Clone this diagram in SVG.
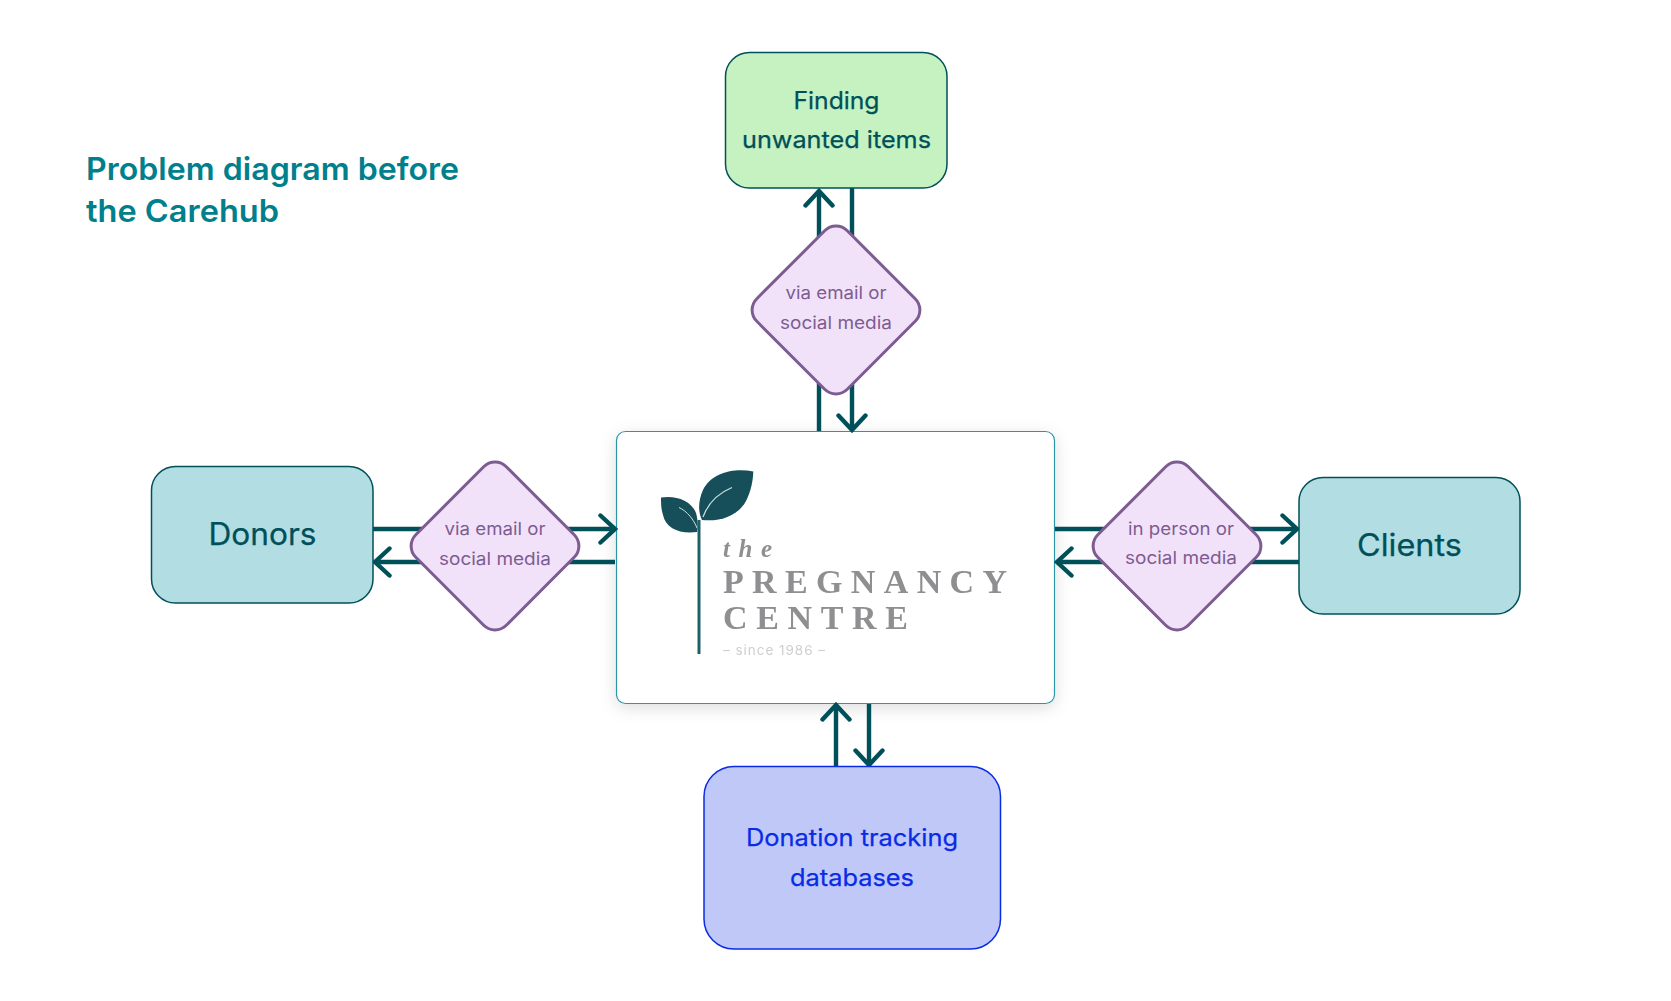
<svg xmlns="http://www.w3.org/2000/svg" width="1671" height="1001" viewBox="0 0 1671 1001">
<style>
text{font-family:"Inter","Liberation Sans",sans-serif;text-anchor:middle}
.box{stroke-width:1.5}
.teal{fill:#b2dde2;stroke:#00505a}
.dark{fill:#00505a}
.l{font-size:31px;font-weight:400}
.m{font-size:24px;font-weight:400}
.dia rect{fill:#f2e2f9;stroke:#7d5c92;stroke-width:3}
.dia text{fill:#7d5c92;font-size:17.5px}
.con line{stroke:#00505a;stroke-width:4.4}
.t{font-size:31.5px;font-weight:600;fill:#007f8c;text-anchor:start}
.serif{font-family:"Liberation Serif",serif;fill:#8f8f92;font-weight:700;text-anchor:start}
</style>
<defs>
<filter id="shadow" x="-15%" y="-15%" width="130%" height="135%"><feDropShadow dx="0" dy="4" stdDeviation="8" flood-color="#000" flood-opacity="0.13"/></filter>
<filter id="soft" x="-5%" y="-5%" width="110%" height="110%"><feGaussianBlur stdDeviation="0.55"/></filter>
<marker id="arrow" markerUnits="userSpaceOnUse" markerWidth="22" markerHeight="40" viewBox="-19 -20 22 40" refX="0" refY="0" orient="auto"><path d="M-14.5,-13.5L0,0L-14.5,13.5" fill="none" stroke="#00505a" stroke-width="4.4" stroke-linecap="round" stroke-linejoin="miter"/></marker>
</defs>
<rect width="1671" height="1001" fill="#fff"/>
<g id="title">
<text class="t" x="86" y="180" textLength="373" lengthAdjust="spacingAndGlyphs">Problem diagram before</text>
<text class="t" x="86" y="222" textLength="193" lengthAdjust="spacingAndGlyphs">the Carehub</text>
</g>
<g id="centre">
<rect x="616.5" y="431.5" width="438" height="272" rx="9" fill="#fff" stroke="#2a97a5" stroke-width="1.2" filter="url(#shadow)"/>
<g id="logo" filter="url(#soft)">
<path d="M753.3,471.5C735,468 712,472 703,490C698,501 698,512 702,520C720,522 738,516 746,501C751,491 753,481 753.3,471.5Z" fill="#15505a"/>
<path d="M661,497.5C675,495 691,500 696,513C698,520 698,527 697,532C680,534 666,529 663,515C661,509 661,503 661,497.5Z" fill="#15505a"/>
<path d="M732,487.5C716,494 707,506 703,517" fill="none" stroke="#cfe0e0" stroke-width="1.2"/>
<path d="M679,507.5C687,511 694,520 697,528" fill="none" stroke="#cfe0e0" stroke-width="1"/>
<path d="M699,520V654" fill="none" stroke="#1f6068" stroke-width="3"/>
<text class="serif" x="723" y="557" font-size="25" font-style="italic" textLength="49">the</text>
<text class="serif" x="723" y="593" font-size="34" textLength="284">PREGNANCY</text>
<text class="serif" x="723" y="629" font-size="34" textLength="185">CENTRE</text>
<text x="723" y="655" style="text-anchor:start;font-size:13.5px;fill:#cfcfcf" textLength="102">– since 1986 –</text>
</g>
</g>
<g id="connectors" class="con">
<line x1="819" y1="431" x2="819" y2="191" marker-end="url(#arrow)"/>
<line x1="852" y1="188" x2="852" y2="430" marker-end="url(#arrow)"/>
<line x1="373" y1="529" x2="615" y2="529" marker-end="url(#arrow)"/>
<line x1="615" y1="562" x2="375" y2="562" marker-end="url(#arrow)"/>
<line x1="1055" y1="529" x2="1297" y2="529" marker-end="url(#arrow)"/>
<line x1="1299" y1="562" x2="1057" y2="562" marker-end="url(#arrow)"/>
<line x1="836" y1="766" x2="836" y2="705" marker-end="url(#arrow)"/>
<line x1="869" y1="704" x2="869" y2="765" marker-end="url(#arrow)"/>
</g>
<g id="finding">
<rect class="box" x="725.5" y="52.5" width="221.5" height="135.5" rx="24" fill="#c6f1c0" stroke="#00505a"/>
<text class="m dark" x="836.5" y="108.5" textLength="86" lengthAdjust="spacingAndGlyphs" stroke="#00505a" stroke-width="0.25">Finding</text>
<text class="m dark" x="836.5" y="148" textLength="189" lengthAdjust="spacingAndGlyphs" stroke="#00505a" stroke-width="0.25">unwanted items</text>
</g>
<g id="donors">
<rect class="box teal" x="151.5" y="466.5" width="221.5" height="136.5" rx="24"/>
<text class="l dark" x="262.5" y="544.5" textLength="108" lengthAdjust="spacingAndGlyphs" stroke="#00505a" stroke-width="0.25">Donors</text>
</g>
<g id="clients">
<rect class="box teal" x="1299" y="477.5" width="221" height="136.5" rx="24"/>
<text class="l dark" x="1409.5" y="556" textLength="105" lengthAdjust="spacingAndGlyphs" stroke="#00505a" stroke-width="0.25">Clients</text>
</g>
<g id="databases">
<rect class="box" x="704" y="766.5" width="296.5" height="182.5" rx="30" fill="#bfc8f7" stroke="#0a2be6"/>
<text x="852" y="846" style="font-size:24px;fill:#0a2be6" textLength="212" lengthAdjust="spacingAndGlyphs" stroke="#0a2be6" stroke-width="0.25">Donation tracking</text>
<text x="852" y="885.5" style="font-size:24px;fill:#0a2be6" textLength="124" lengthAdjust="spacingAndGlyphs" stroke="#0a2be6" stroke-width="0.25">databases</text>
</g>
<g id="diamond-top" class="dia">
<rect x="-64" y="-64" width="128" height="128" rx="16" transform="translate(836 310) rotate(45)"/>
<text x="836" y="298.5" textLength="101" lengthAdjust="spacingAndGlyphs">via email or</text>
<text x="836" y="329" textLength="112" lengthAdjust="spacingAndGlyphs">social media</text>
</g>
<g id="diamond-left" class="dia">
<rect x="-64" y="-64" width="128" height="128" rx="16" transform="translate(495 546) rotate(45)"/>
<text x="495" y="535" textLength="101" lengthAdjust="spacingAndGlyphs">via email or</text>
<text x="495" y="565" textLength="112" lengthAdjust="spacingAndGlyphs">social media</text>
</g>
<g id="diamond-right" class="dia">
<rect x="-64" y="-64" width="128" height="128" rx="16" transform="translate(1177 546) rotate(45)"/>
<text x="1181" y="534.5" textLength="106" lengthAdjust="spacingAndGlyphs">in person or</text>
<text x="1181" y="564" textLength="112" lengthAdjust="spacingAndGlyphs">social media</text>
</g>
</svg>
